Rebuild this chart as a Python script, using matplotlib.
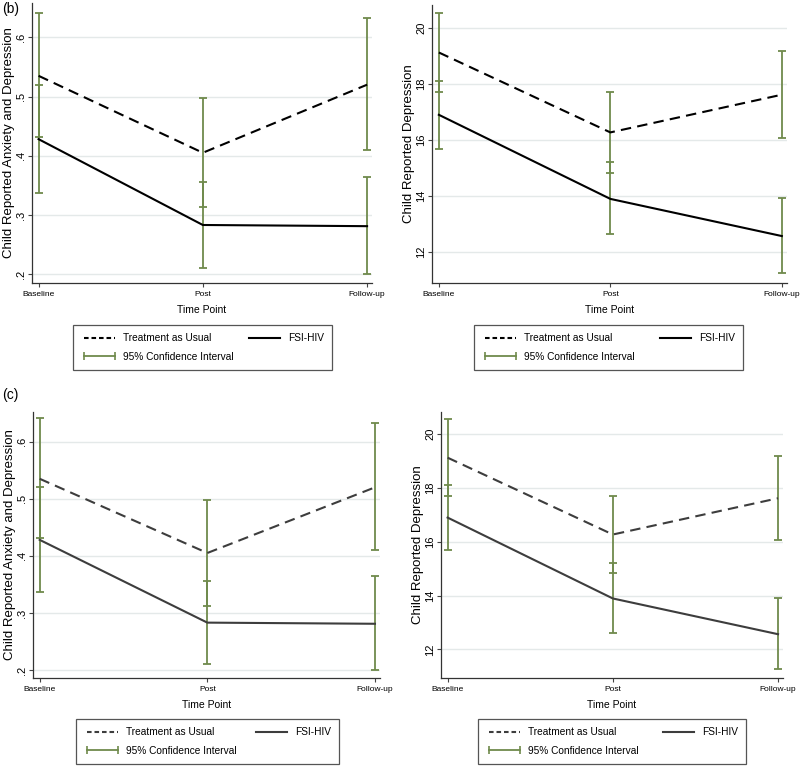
import matplotlib
matplotlib.use("Agg")
import matplotlib.pyplot as plt
from matplotlib.lines import Line2D
import numpy as np

plt.rcParams['font.family'] = ['Liberation Sans', 'DejaVu Sans']

time_points = ["Baseline", "Post", "Follow-up"]

# child reported anxiety and depression
anx_tau = [0.535, 0.405, 0.520]
anx_tau_lo = [0.431, 0.313, 0.410]
anx_tau_hi = [0.641, 0.497, 0.632]
anx_fsi = [0.428, 0.283, 0.281]
anx_fsi_lo = [0.337, 0.210, 0.200]
anx_fsi_hi = [0.520, 0.356, 0.364]
anx_ticks = [0.2, 0.3, 0.4, 0.5, 0.6]
anx_ticklabels = [".2", ".3", ".4", ".5", ".6"]

# child reported depression
dep_tau = [19.13, 16.27, 17.62]
dep_tau_lo = [17.70, 14.82, 16.07]
dep_tau_hi = [20.56, 17.71, 19.20]
dep_fsi = [16.90, 13.89, 12.56]
dep_fsi_lo = [15.69, 12.62, 11.25]
dep_fsi_hi = [18.12, 15.20, 13.91]
dep_ticks = [12, 14, 16, 18, 20]
dep_ticklabels = ["12", "14", "16", "18", "20"]

CI_COLOR = "#6f8a4c"


def draw_panel(ax, tau, tau_lo, tau_hi, fsi, fsi_lo, fsi_hi,
               ticks, ticklabels, ylim, ylabel, line_color):
    x = np.arange(len(time_points))
    for ax_y in ticks:
        ax.axhline(ax_y, color="#e4e9e9", lw=1.0, zorder=0)
    for m, lo, hi in [(tau, tau_lo, tau_hi), (fsi, fsi_lo, fsi_hi)]:
        m = np.array(m)
        ax.errorbar(x, m, yerr=[m - np.array(lo), np.array(hi) - m], fmt='none',
                    ecolor=CI_COLOR, elinewidth=1.3, capsize=3, capthick=1.3, zorder=2)
    ax.plot(x, tau, color=line_color, lw=1.5, dashes=(5, 3), zorder=3)
    ax.plot(x, fsi, color=line_color, lw=1.5, zorder=3)
    ax.set_xlim(-0.04, 2.03)
    ax.set_ylim(*ylim)
    ax.set_xticks(x)
    ax.set_xticklabels(time_points, fontsize=6)
    ax.set_yticks(ticks)
    ax.set_yticklabels(ticklabels, fontsize=8, rotation=90, va='center')
    ax.tick_params(length=3, width=0.8, color="#444444", pad=1)
    ax.tick_params(axis='x', pad=2.5)
    for s in ["top", "right"]:
        ax.spines[s].set_visible(False)
    for s in ["left", "bottom"]:
        ax.spines[s].set_color("#333333")
        ax.spines[s].set_linewidth(0.9)
    ax.set_xlabel("Time Point", fontsize=7.5, labelpad=5)
    ax.set_ylabel(ylabel, fontsize=9.5, labelpad=1)


def add_legend(fig, box, line_color):
    h_tau = Line2D([], [], color=line_color, lw=1.5, dashes=(2.2, 1.4))
    h_fsi = Line2D([], [], color=line_color, lw=1.5)
    h_ci = Line2D([], [], color=CI_COLOR, lw=1.3, marker='|', markersize=6,
                  markeredgewidth=1.2)
    leg = fig.legend([h_tau, h_ci, h_fsi],
                     ["Treatment as Usual", "95% Confidence Interval", "FSI-HIV"],
                     loc='upper left', bbox_to_anchor=box, mode='expand', ncol=2,
                     numpoints=2, handlelength=3.6, handletextpad=0.5,
                     labelspacing=0.85, borderpad=0.8, borderaxespad=0,
                     fancybox=False, framealpha=1, fontsize=7.3)
    leg.get_frame().set_edgecolor("#555555")
    leg.get_frame().set_linewidth(0.9)


W, H = 800, 767
fig = plt.figure(figsize=(W / 100, H / 100), dpi=100)


def rect(l, r, t, b):
    return [l / W, 1 - b / H, (r - l) / W, (b - t) / H]


ax1 = fig.add_axes(rect(32, 372, 3, 283))
ax2 = fig.add_axes(rect(432, 787, 5, 283))
ax3 = fig.add_axes(rect(33, 380, 412, 678))
ax4 = fig.add_axes(rect(441, 783, 412, 678))

draw_panel(ax1, anx_tau, anx_tau_lo, anx_tau_hi, anx_fsi, anx_fsi_lo, anx_fsi_hi,
           anx_ticks, anx_ticklabels, (0.185, 0.658),
           "Child Reported Anxiety and Depression", "black")
draw_panel(ax2, dep_tau, dep_tau_lo, dep_tau_hi, dep_fsi, dep_fsi_lo, dep_fsi_hi,
           dep_ticks, dep_ticklabels, (10.88, 20.83),
           "Child Reported Depression", "black")
draw_panel(ax3, anx_tau, anx_tau_lo, anx_tau_hi, anx_fsi, anx_fsi_lo, anx_fsi_hi,
           anx_ticks, anx_ticklabels, (0.186, 0.652),
           "Child Reported Anxiety and Depression", "#3d3d3d")
draw_panel(ax4, dep_tau, dep_tau_lo, dep_tau_hi, dep_fsi, dep_fsi_lo, dep_fsi_hi,
           dep_ticks, dep_ticklabels, (10.93, 20.83),
           "Child Reported Depression", "#3d3d3d")

add_legend(fig, (73 / W, 1 - 369 / H, 259 / W, 44 / H), "black")
add_legend(fig, (474 / W, 1 - 369 / H, 269 / W, 44 / H), "black")
add_legend(fig, (76 / W, 1 - 764 / H, 263 / W, 45 / H), "#3d3d3d")
add_legend(fig, (478 / W, 1 - 764 / H, 268 / W, 45 / H), "#3d3d3d")

fig.text(2 / W, 1 - 9 / H, "(b)", fontsize=10, va='center', ha='left')
fig.text(2 / W, 1 - 395 / H, "(c)", fontsize=10, va='center', ha='left')

fig.savefig("out.png", dpi=100)
